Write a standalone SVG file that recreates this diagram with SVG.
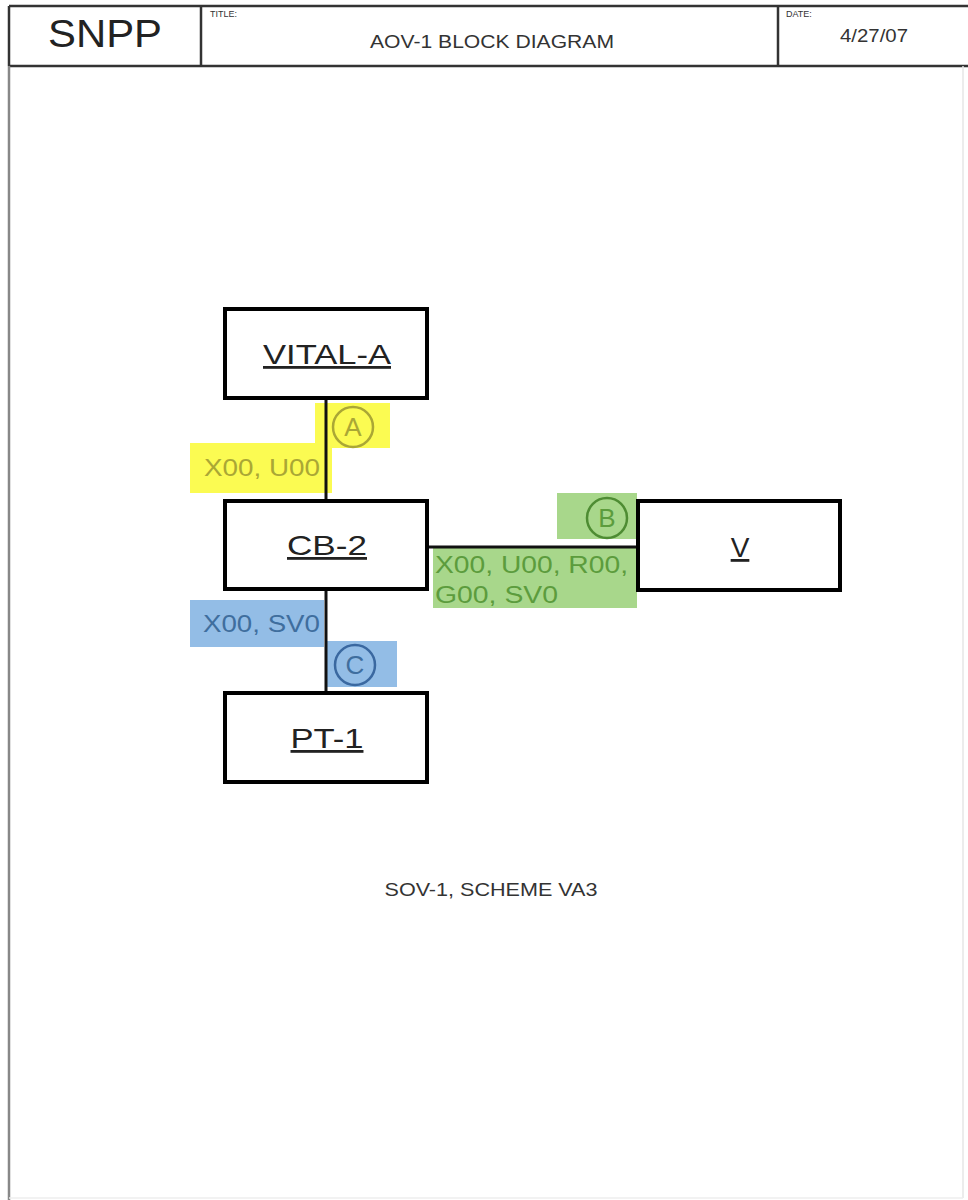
<svg xmlns="http://www.w3.org/2000/svg" width="968" height="1200" viewBox="0 0 968 1200">
<style>
text{font-family:"Liberation Sans",Arial,sans-serif}
.frame{fill:none;stroke:#333;stroke-width:2.5}
.box{fill:#fff;stroke:#000;stroke-width:4}
.lbl{font-size:28px;fill:#222;text-anchor:middle;text-decoration:underline}
.wire{stroke:#111;stroke-width:3;fill:none}
.small{font-size:9px;fill:#333}
.y{fill:#fbfb52}
.yt{fill:#aaa735;font-size:23px}
.g{fill:#a8d78b}
.gt{fill:#5c9c3d;font-size:23px}
.b{fill:#93bde6}
.bt{fill:#3f6e9e;font-size:23px}
.circ{fill:none;stroke-width:2.5}
.cl{font-size:26px;text-anchor:middle}
</style>
<rect width="968" height="1200" fill="#fff"/>
<g id="titleblock">
<line x1="9" y1="6" x2="968" y2="6" class="frame"/>
<line x1="9" y1="66" x2="968" y2="66" class="frame"/>
<line x1="9" y1="6" x2="9" y2="66" class="frame"/>
<line x1="201" y1="6" x2="201" y2="66" class="frame"/>
<line x1="778" y1="6" x2="778" y2="66" class="frame"/>
<line x1="9" y1="66" x2="9" y2="1200" stroke="#888" stroke-width="2.5"/>
<line x1="963" y1="66" x2="963" y2="1198" stroke="#e6e6e6" stroke-width="1.5"/>
<line x1="9" y1="1198" x2="963" y2="1198" stroke="#eee" stroke-width="1.5"/>
<text x="48" y="47" font-size="38" fill="#222" textLength="114" lengthAdjust="spacingAndGlyphs">SNPP</text>
<text x="210" y="17" class="small">TITLE:</text>
<text x="370" y="48" font-size="18" fill="#333" textLength="244" lengthAdjust="spacingAndGlyphs">AOV-1 BLOCK DIAGRAM</text>
<text x="786" y="17" class="small">DATE:</text>
<text x="840" y="42" font-size="19" fill="#333" textLength="68" lengthAdjust="spacingAndGlyphs">4/27/07</text>
</g>
<g id="highlights">
<rect x="315" y="403" width="75" height="45" class="y"/>
<rect x="190" y="443" width="142" height="50" class="y"/>
<rect x="557" y="493" width="80" height="46" class="g"/>
<rect x="433" y="548" width="204" height="60" class="g"/>
<rect x="190" y="600" width="134" height="47" class="b"/>
<rect x="325" y="641" width="72" height="46" class="b"/>
</g>
<g id="connectors">
<line x1="326" y1="398" x2="326" y2="500" class="wire"/>
<line x1="427" y1="547" x2="638" y2="547" class="wire"/>
<line x1="326" y1="589" x2="326" y2="693" class="wire"/>
</g>
<g id="label-A">
<circle cx="353" cy="427" r="20" class="circ" stroke="#aaa735"/>
<text x="353" y="436" class="cl" fill="#aaa735">A</text>
<text x="204" y="476" class="yt" textLength="116" lengthAdjust="spacingAndGlyphs">X00, U00</text>
</g>
<g id="label-B">
<circle cx="607" cy="518" r="20" class="circ" stroke="#4e8c33"/>
<text x="607" y="527" class="cl" fill="#5c9c3d">B</text>
<text x="435" y="573" class="gt" textLength="193" lengthAdjust="spacingAndGlyphs">X00, U00, R00,</text>
<text x="435" y="603" class="gt" textLength="123" lengthAdjust="spacingAndGlyphs">G00, SV0</text>
</g>
<g id="label-C">
<circle cx="355" cy="665" r="20" class="circ" stroke="#3a68a0"/>
<text x="355" y="674" class="cl" fill="#3f6e9e">C</text>
<text x="203" y="632" class="bt" textLength="117" lengthAdjust="spacingAndGlyphs">X00, SV0</text>
</g>
<g id="node-vital-a">
<rect x="225" y="309" width="202" height="89" class="box"/>
<text x="327" y="364" class="lbl" textLength="128" lengthAdjust="spacingAndGlyphs">VITAL-A</text>
</g>
<g id="node-cb-2">
<rect x="225" y="501" width="202" height="88" class="box"/>
<text x="327" y="555" class="lbl" textLength="80" lengthAdjust="spacingAndGlyphs">CB-2</text>
</g>
<g id="node-v">
<rect x="638" y="501" width="202" height="89" class="box"/>
<text x="740" y="557" class="lbl">V</text>
</g>
<g id="node-pt-1">
<rect x="225" y="693" width="202" height="89" class="box"/>
<text x="327" y="748" class="lbl" textLength="73" lengthAdjust="spacingAndGlyphs">PT-1</text>
</g>
<text x="491" y="896" font-size="19" fill="#333" text-anchor="middle" textLength="213" lengthAdjust="spacingAndGlyphs">SOV-1, SCHEME VA3</text>
</svg>
